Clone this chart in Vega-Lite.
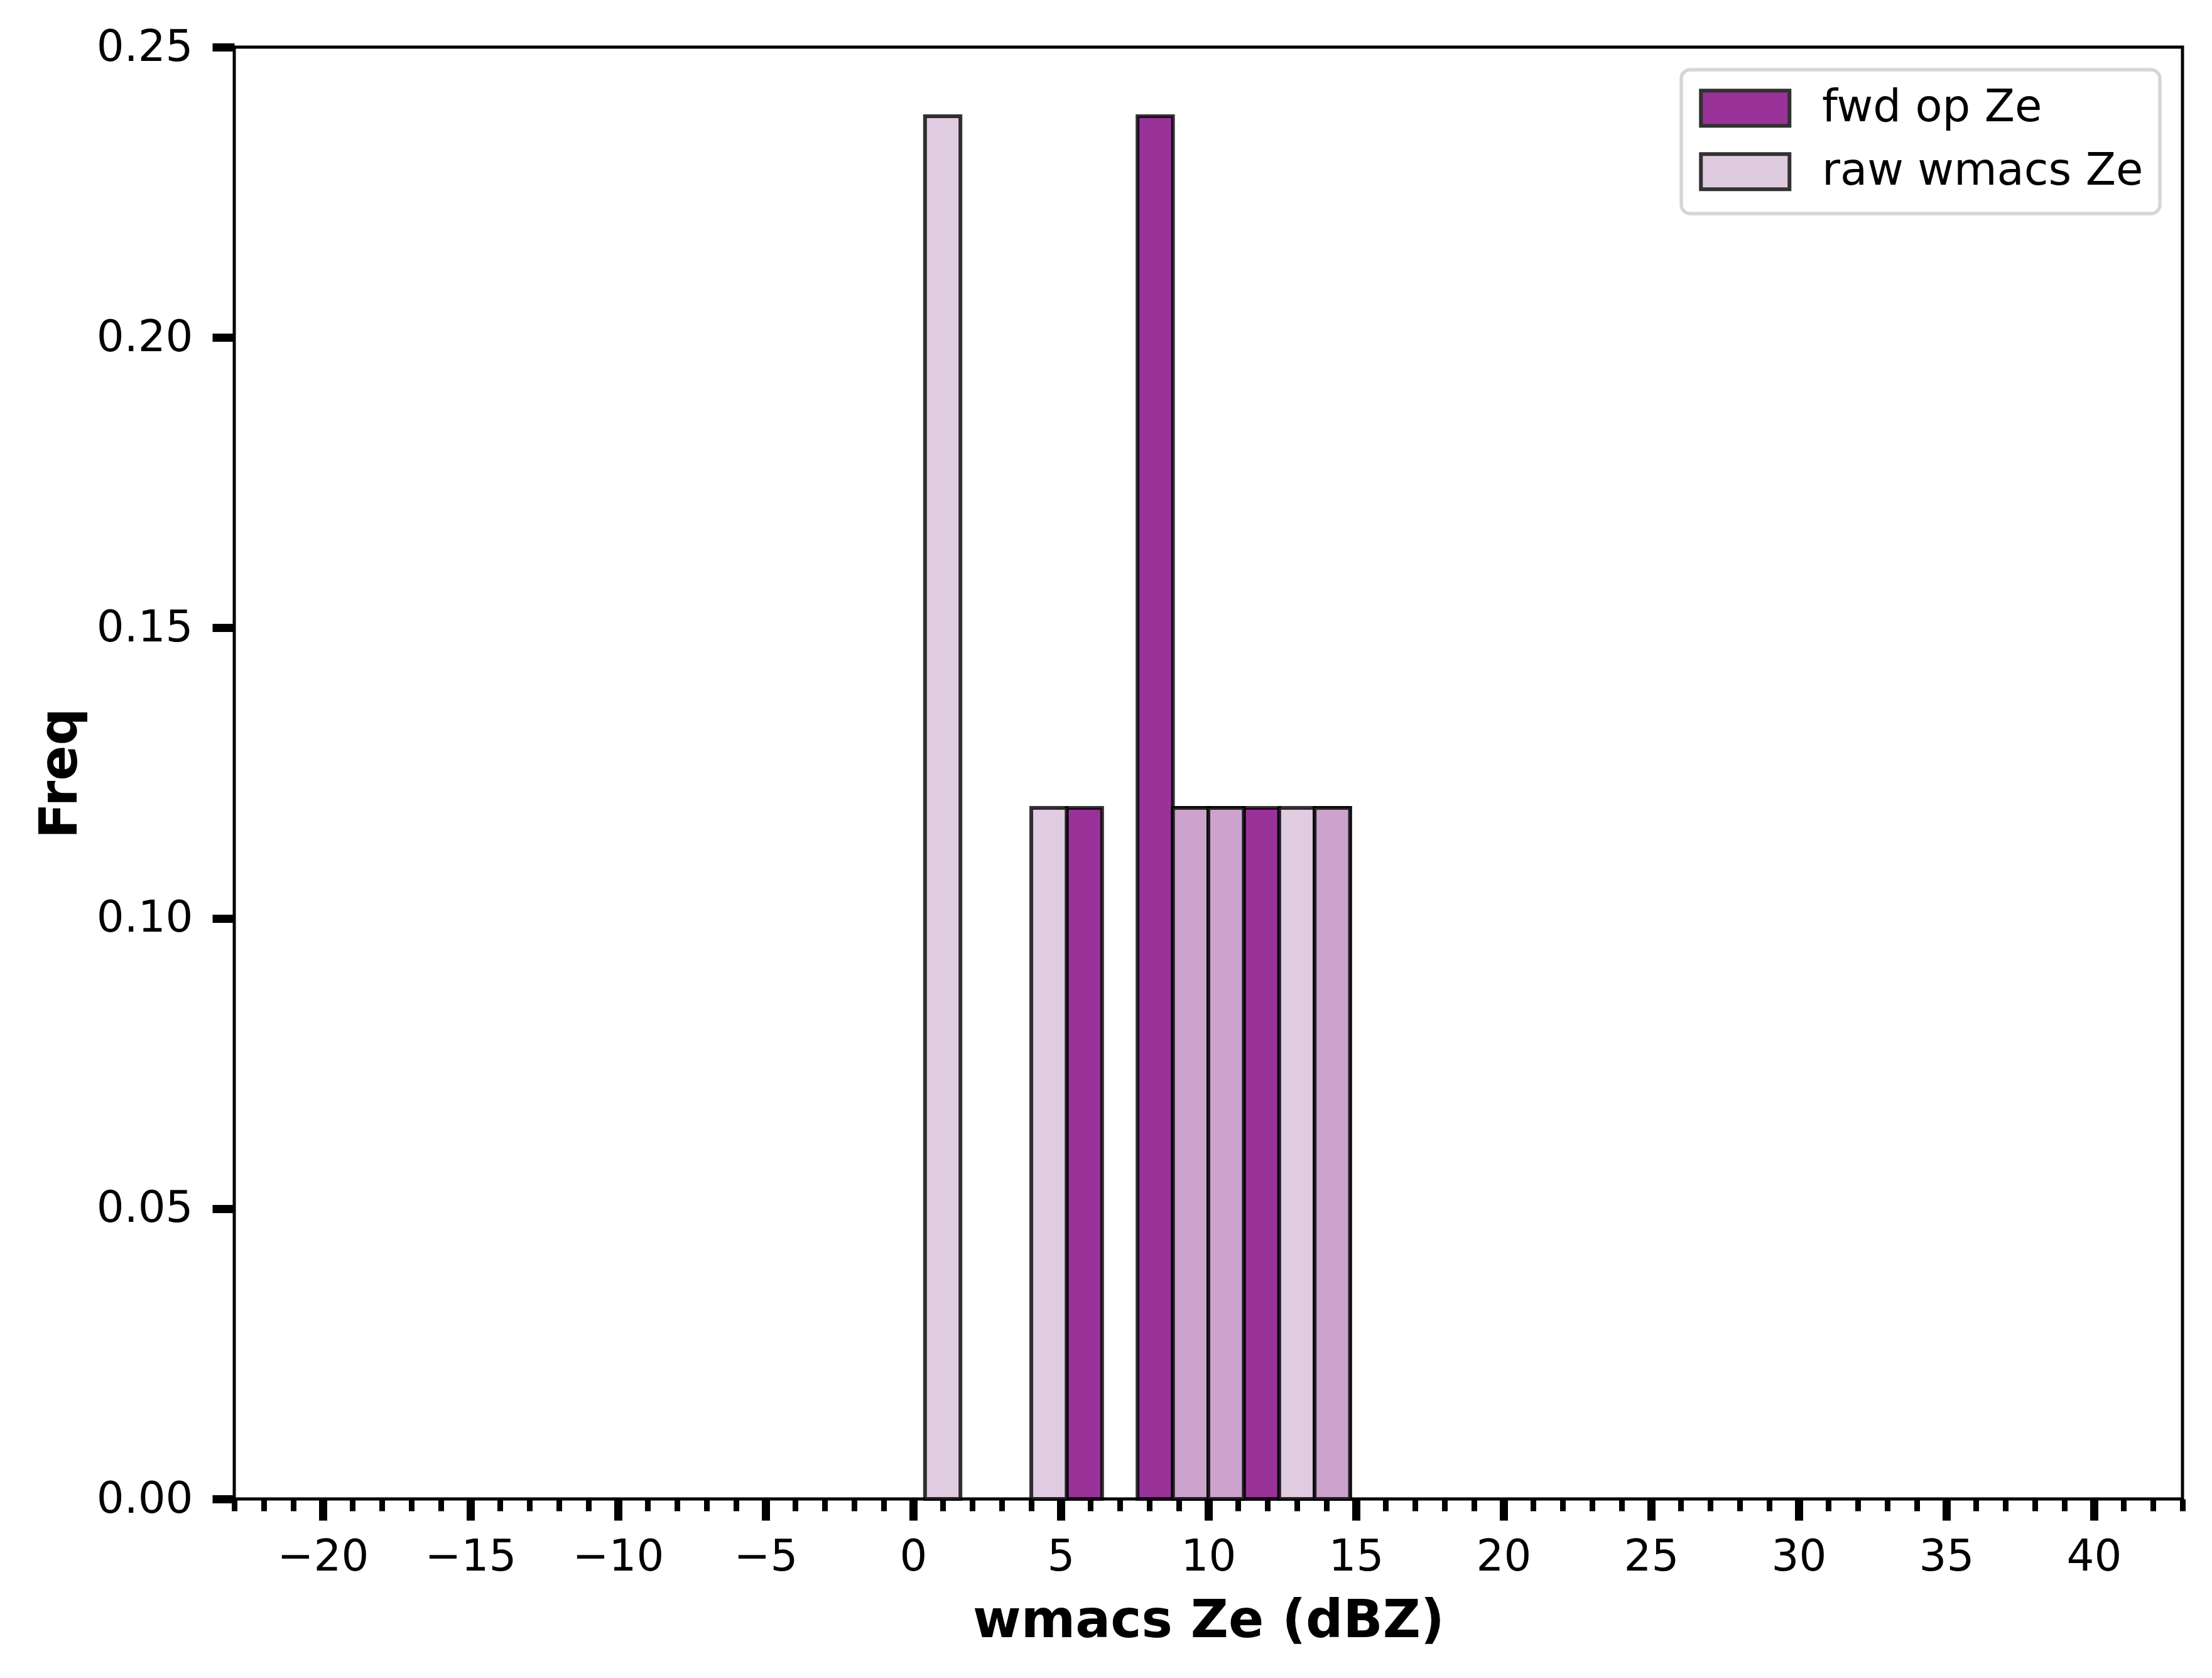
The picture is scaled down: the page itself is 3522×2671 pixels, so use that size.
{
  "$schema": "https://vega.github.io/schema/vega-lite/v6.json",
  "width": 3102,
  "height": 2311,
  "autosize": {"type": "none"},
  "padding": {"left": 373, "top": 75, "right": 47, "bottom": 285},
  "background": "white",
  "config": {
    "view": {"stroke": "black", "strokeWidth": 5, "fill": "white"},
    "font": "DejaVu Sans"
  },
  "data": {
    "values": [
      {"series": "fwd op Ze", "x0": 5.2, "x1": 6.4, "freq": 0.1190},
      {"series": "fwd op Ze", "x0": 7.6, "x1": 8.8, "freq": 0.2381},
      {"series": "fwd op Ze", "x0": 8.8, "x1": 10.0, "freq": 0.1190},
      {"series": "fwd op Ze", "x0": 10.0, "x1": 11.2, "freq": 0.1190},
      {"series": "fwd op Ze", "x0": 11.2, "x1": 12.4, "freq": 0.1190},
      {"series": "fwd op Ze", "x0": 13.6, "x1": 14.8, "freq": 0.1190},
      {"series": "raw wmacs Ze", "x0": 0.4, "x1": 1.6, "freq": 0.2381},
      {"series": "raw wmacs Ze", "x0": 4.0, "x1": 5.2, "freq": 0.1190},
      {"series": "raw wmacs Ze", "x0": 8.8, "x1": 10.0, "freq": 0.1190},
      {"series": "raw wmacs Ze", "x0": 10.0, "x1": 11.2, "freq": 0.1190},
      {"series": "raw wmacs Ze", "x0": 12.4, "x1": 13.6, "freq": 0.1190},
      {"series": "raw wmacs Ze", "x0": 13.6, "x1": 14.8, "freq": 0.1190}
    ]
  },
  "mark": {
    "type": "rect",
    "fillOpacity": 0.8,
    "stroke": "black",
    "strokeOpacity": 0.8,
    "strokeWidth": 6
  },
  "encoding": {
    "x": {
      "field": "x0",
      "type": "quantitative",
      "scale": {"domain": [-23, 43], "nice": false, "zero": false},
      "axis": {
        "title": "wmacs Ze (dBZ)",
        "values": [-23,-22,-21,-20,-19,-18,-17,-16,-15,-14,-13,-12,-11,-10,-9,-8,-7,-6,-5,-4,-3,-2,-1,0,1,2,3,4,5,6,7,8,9,10,11,12,13,14,15,16,17,18,19,20,21,22,23,24,25,26,27,28,29,30,31,32,33,34,35,36,37,38,39,40,41,42,43],
        "labelExpr": "datum.value % 5 === 0 && datum.value >= -20 && datum.value <= 40 ? (datum.value < 0 ? '\u2212' + abs(datum.value) : '' + datum.value) : ''",
        "domain": false,
        "grid": false,
        "tickColor": "black",
        "tickSize": {"condition": {"test": "datum.value % 5 === 0", "value": 34}, "value": 19},
        "tickWidth": {"condition": {"test": "datum.value % 5 === 0", "value": 13}, "value": 9},
        "labelFont": "DejaVu Sans",
        "labelFontSize": 69,
        "labelColor": "black",
        "labelPadding": 24,
        "labelOverlap": false,
        "labelFlush": false,
        "titleFont": "DejaVu Sans",
        "titleFontSize": 83,
        "titleFontWeight": "bold",
        "titleColor": "black",
        "titleBaseline": "alphabetic",
        "titleY": 219
      }
    },
    "x2": {"field": "x1"},
    "y": {
      "field": "freq",
      "type": "quantitative",
      "scale": {"domain": [0, 0.25], "nice": false},
      "axis": {
        "title": "Freq",
        "values": [0, 0.05, 0.1, 0.15, 0.2, 0.25],
        "format": ".2f",
        "domain": false,
        "grid": false,
        "tickColor": "black",
        "tickSize": 35,
        "tickWidth": 13,
        "labelFont": "DejaVu Sans",
        "labelFontSize": 69,
        "labelColor": "black",
        "labelPadding": 31,
        "labelOverlap": false,
        "labelFlush": false,
        "titleFont": "DejaVu Sans",
        "titleFontSize": 83,
        "titleFontWeight": "bold",
        "titleColor": "black",
        "titleBaseline": "alphabetic",
        "titleX": -252
      }
    },
    "y2": {"datum": 0},
    "color": {
      "field": "series",
      "type": "nominal",
      "scale": {"domain": ["fwd op Ze", "raw wmacs Ze"], "range": ["purple", "thistle"]},
      "legend": {
        "title": null,
        "orient": "top-right",
        "offset": 36,
        "padding": 26,
        "symbolType": "M-2.35,-0.933H2.35V0.933H-2.35Z",
        "symbolSize": 3600,
        "symbolOffset": 40.5,
        "symbolStrokeColor": "black",
        "symbolStrokeWidth": 6,
        "symbolOpacity": 0.8,
        "labelOffset": 87,
        "labelFont": "DejaVu Sans",
        "labelFontSize": 70.5,
        "labelColor": "black",
        "labelLimit": 0,
        "rowPadding": 20,
        "strokeColor": "#d6d6d6",
        "cornerRadius": 14,
        "fillColor": "white",
        "encode": {"legend": {"update": {"strokeWidth": {"value": 5.5}}}}
      }
    }
  }
}
